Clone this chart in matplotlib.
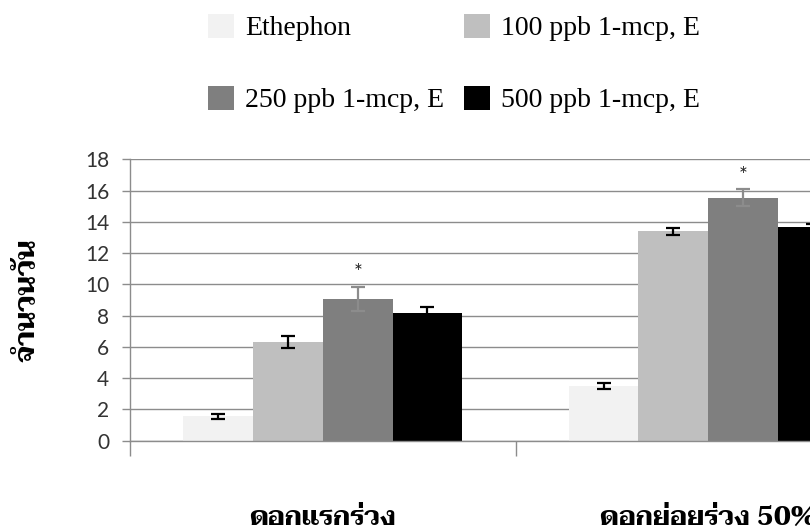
import numpy as np
import matplotlib
matplotlib.use('Agg')
import matplotlib.pyplot as plt
import matplotlib.transforms as mtransforms

# Groups and treatments
groups = ['ดอกแรกร่วง', 'ดอกย่อยร่วง 50%']
treatments = ['Ethephon', '100 ppb 1-mcp, E', '250 ppb 1-mcp, E', '500 ppb 1-mcp, E']

# Days (mean) per treatment, one value per group
ethephon = [1.55, 3.48]
mcp_100 = [6.3, 13.4]
mcp_250 = [9.05, 15.55]
mcp_500 = [8.15, 13.65]

# Error bars
err_ethephon = [0.14, 0.19]
err_100 = [0.4, 0.23]
err_250 = [0.78, 0.52]
err_500 = [0.42, 0.2]

# Significance marks (above 250 ppb bars)
star_y = [10.7, 16.9]

thai_font = ['Taviraj', 'DejaVu Sans']
num_font = 'Lato'

fig = plt.figure(figsize=(8.1, 5.32), dpi=100)
ax = fig.add_axes([130/810, 91.3/532, 771/810, 281.4/532])

x = np.arange(len(groups))
w = 0.181
colors = ['#f2f2f2', '#bfbfbf', '#7f7f7f', '#000000']
ecolors = ['black', 'black', '#8c8c8c', 'black']
values = [ethephon, mcp_100, mcp_250, mcp_500]
errors = [err_ethephon, err_100, err_250, err_500]

bars = []
for i, (vals, errs) in enumerate(zip(values, errors)):
    b = ax.bar(x + (i - 1.5)*w, vals, w, color=colors[i], zorder=2,
               yerr=errs, error_kw=dict(ecolor=ecolors[i], elinewidth=1.6,
                                       capsize=5, capthick=1.6, zorder=3),
               label=treatments[i])
    bars.append(b)

for xi, sy in zip(x, star_y):
    ax.text(xi + 0.5*w, sy, '*', ha='center', va='center', fontsize=15,
            family=num_font, color='#222222')

ax.set_ylim(0, 18)
ax.set_xlim(-0.5, 1.5)
ax.set_yticks(np.arange(0, 19, 2))
ax.yaxis.grid(True, color='#8c8c8c', linewidth=1.0, zorder=0)
ax.set_axisbelow(True)
for s in ['top', 'right']:
    ax.spines[s].set_visible(False)
for s in ['left', 'bottom']:
    ax.spines[s].set_color('#8c8c8c')
    ax.spines[s].set_linewidth(1.0)

ax.set_xticks([-0.5, 0.5, 1.5])
ax.set_xticklabels([])
ax.tick_params(axis='x', length=11, width=1.0, color='#8c8c8c', direction='out')
ax.tick_params(axis='y', length=6, width=1.0, color='#8c8c8c', pad=9,
               labelsize=15, labelcolor='#333333')
for lab in ax.get_yticklabels():
    lab.set_family(num_font)

# category labels
trans = mtransforms.blended_transform_factory(ax.transData, fig.transFigure)
for xi, g in zip(x, groups):
    ax.text(xi, 26/532, g, transform=trans, ha='center', va='top',
            fontsize=19, fontweight='bold', family=thai_font, clip_on=False)

fig.text(28/810, 232/532, 'จำนวนวัน', rotation=90, ha='center', va='center',
         fontsize=20, fontweight='bold', family=thai_font)

# legend laid out in two rows
order = [0, 2, 1, 3]
fig.legend([bars[i] for i in order], [treatments[i] for i in order],
           ncol=2, loc='upper left', bbox_to_anchor=(194/810, 1.0),
           frameon=False, prop=dict(family='Liberation Serif', size=20),
           handlelength=0.94, handleheight=0.94, handletextpad=0.4,
           columnspacing=0.72, labelspacing=1.6, borderpad=0.0)

fig.savefig('out.png', dpi=100)
